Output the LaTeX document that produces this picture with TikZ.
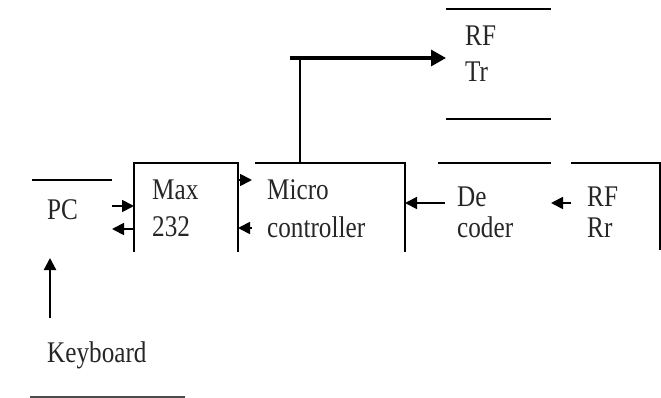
\documentclass[tikz,border=0pt]{standalone}
\usepackage{fontspec}
\setmainfont{Liberation Serif}
\newfontfamily\lblfont{Liberation Serif}[FakeStretch=0.84]
\usetikzlibrary{arrows.meta}
\tikzset{
  blk/.style={rectangle, inner sep=0pt, outer sep=0pt},            % invisible block frame
  bl/.style={draw=black, line width=1.6pt},                         % drawn block edge
  ar/.style={draw=black, line width=1.8pt, -{Triangle[length=12pt,width=12pt]}},
  lbl/.style={anchor=west, inner sep=0pt, align=left, text=black!85,
              font=\lblfont\fontsize{30}{#1}\selectfont},
  lbl/.default=37,
}
\begin{document}
\begin{tikzpicture}[x=1pt, y=-1pt]
  \useasboundingbox (0,0) rectangle (661,398);
  % block frames
  \node[blk, minimum width=80,  minimum height=78]  (pc)   at (72,219)    {};
  \node[blk, minimum width=104, minimum height=89]  (max)  at (186,207.5) {};
  \node[blk, minimum width=153, minimum height=89]  (mc)   at (328.5,207.5) {};
  \node[blk, minimum width=105, minimum height=110] (rftr) at (498.5,64)  {};
  \node[blk, minimum width=106, minimum height=89]  (dec)  at (498,207.5) {};
  \node[blk, minimum width=89,  minimum height=89]  (rfrr) at (615.5,207.5) {};
  \node[blk, minimum width=155, minimum height=79]  (kb)   at (107.5,357.5) {};
  % labels
  \node[lbl] (pct)   at (47,210)    {PC};
  \node[lbl] (maxt)  at (152,208.5) {Max\\232};
  \node[lbl=38] (mct) at (267,209) {Micro\\controller};
  \node[lbl=36] (rftrt) at (465,54) {RF\\Tr};
  \node[lbl=31] (dect)  at (457,212.5) {De\\coder};
  \node[lbl=31] (rfrrt) at (587,212.5) {RF\\Rr};
  \node[lbl] (kbt)   at (47,355)    {Keyboard};
  % block edges
  \draw[bl] (pc.north west) -- (pc.north east);
  \draw[bl] (max.south west) |- (max.north east) -- (max.south east);
  \draw[bl] ([xshift=3]mc.north west) -- (mc.north east) -- (mc.south east);
  \draw[bl] (rftr.north west) -- (rftr.north east);
  \draw[bl] (rftr.south west) -- (rftr.south east);
  \draw[bl] ([xshift=-7]dec.north west) -- (dec.north east);
  \draw[bl] (rfrr.north west) -- (rfrr.north east) -- ([yshift=2]rfrr.south east);
  \draw[bl, line width=1.2pt, draw=black!70] (kb.south west) -- (kb.south east);
  % connectors
  \draw[ar] ([yshift=13]pc.east) -- ([yshift=1.5]max.west);
  \draw[ar] ([yshift=-21.5]max.west) -- ([yshift=-10]pc.east);
  \draw[ar] ([yshift=27.5]max.east) -- ([yshift=27.5]mc.west);
  \draw[ar] ([yshift=-20.5]mc.west) -- ([yshift=-20.5]max.east);
  \draw[ar] ([yshift=4.5]dec.west) -- ([yshift=4.5]mc.east);
  \draw[ar] ([yshift=4.5]rfrr.west) -- ([yshift=4.5]dec.east);
  \draw[ar, line width=2.2pt] ([xshift=20]kb.north west) -- ([xshift=18]pc.south west);
  \coordinate (tap) at ([xshift=48]mc.north west);
  \coordinate (tip) at ([yshift=6]rftr.west);
  \draw[bl] (tap) -- (tap |- tip);
  \draw[ar, line width=3.2pt, -{Triangle[length=15pt,width=16pt]}]
    ([xshift=-10pt]tap |- tip) -- (tip);
\end{tikzpicture}
\end{document}
